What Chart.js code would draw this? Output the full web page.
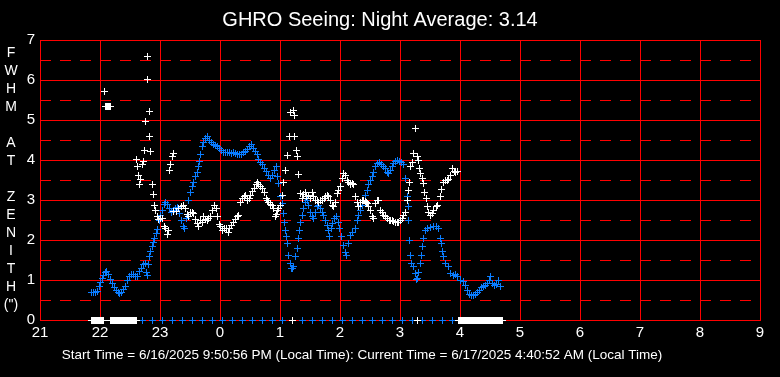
<!DOCTYPE html>
<html>
<head>
<meta charset="utf-8">
<script src="https://cdn.jsdelivr.net/npm/chart.js@4/dist/chart.umd.min.js"></script>
<style>
  html, body { margin: 0; padding: 0; background: #000; }
  canvas { display: block; background: #000; }
</style>
</head>
<body>
<canvas id="seeingChart" width="780" height="377"></canvas>
<script>
// minutes after 21:00 local time, FWHM at zenith (arcsec)
const blueSeeing = [
  [51,0.70],[53,0.70],[55,0.70],[57,0.72],[59,0.85],[60,0.95],[62,1.05],[63,1.12],[65,1.20],[66,1.22],
  [68,1.15],[70,1.02],[72,0.92],[74,0.82],[76,0.75],[78,0.68],[79,0.66],[81,0.70],[83,0.76],[85,0.85],
  [87,0.98],[89,1.08],[91,1.13],[93,1.15],[95,1.08],[97,1.10],[99,1.22],[101,1.30],[103,1.38],[105,1.42],
  [106,1.20],[107,1.12],[108,1.38],[109,1.58],[110,1.72],[112,1.83],[113,1.95],[114,2.05],[116,2.17],[117,2.27],
  [119,2.50],[120,2.62],[122,2.75],[124,2.88],[125,2.93],[127,2.90],[129,2.80],[131,2.70],[133,2.75],[135,2.80],
  [137,2.82],[139,2.67],[141,2.50],[143,2.33],[144,2.30],[146,2.55],[148,3.00],[150,3.20],[152,3.33],[153,3.45],
  [155,3.58],[157,3.70],[158,3.85],[159,3.97],[160,4.15],[162,4.33],[163,4.43],[165,4.55],[167,4.58],[169,4.50],
  [171,4.45],[173,4.40],[175,4.37],[177,4.33],[179,4.28],[181,4.23],[183,4.20],[185,4.20],[187,4.18],[189,4.18],
  [191,4.17],[193,4.20],[195,4.17],[197,4.15],[199,4.13],[201,4.15],[203,4.18],[205,4.22],[207,4.27],[209,4.33],
  [211,4.38],[213,4.30],[215,4.22],[217,4.15],[218,4.02],[220,3.95],[222,3.88],[224,3.80],[226,3.72],[228,3.62],
  [230,3.55],[232,3.62],[234,3.75],[236,3.85],[237,3.60],[238,3.42],[240,3.10],[242,2.92],[243,2.67],[244,2.45],
  [245,2.25],[246,2.08],[247,1.92],[248,1.62],[250,1.42],[251,1.30],[252,1.30],[253,1.35],[255,1.60],[257,1.80],
  [258,2.05],[259,2.25],[260,2.45],[262,2.62],[263,2.80],[265,2.95],[267,3.00],[268,2.87],[270,2.70],[272,2.58],
  [273,2.55],[275,2.70],[277,2.83],[278,2.87],[280,2.80],[282,2.70],[283,2.62],[285,2.50],[287,2.37],[288,2.25],
  [289,2.08],[291,2.30],[292,2.42],[294,2.55],[296,2.58],[298,2.45],[299,2.30],[301,2.08],[303,1.87],[305,1.70],
  [306,1.62],[308,1.92],[310,2.12],[312,2.20],[315,2.30],[317,2.50],[318,2.62],[320,2.75],[322,2.87],[323,3.00],
  [325,3.12],[327,3.25],[328,3.40],[330,3.50],[332,3.58],[333,3.70],[335,3.83],[337,3.92],[339,3.95],[341,3.90],
  [343,3.85],[345,3.80],[347,3.70],[348,3.66],[350,3.75],[352,3.85],[353,3.92],[355,3.97],[357,4.00],[359,3.97],
  [361,3.93],[363,3.88],[365,3.55],[367,3.08],[368,2.83],[368.5,2.50],[369,2.00],[370,1.62],[371,1.42],[373,1.33],
  [375,1.17],[376,1.02],[377,1.05],[378,1.20],[380,1.42],[381,1.62],[382,1.83],[383,2.05],[385,2.25],[387,2.30],
  [390,2.32],[393,2.33],[396,2.33],[398,2.28],[400,2.05],[401,1.92],[402,1.72],[403,1.58],[405,1.42],[408,1.33],
  [410,1.17],[413,1.12],[415,1.15],[417,1.08],[420,1.00],[423,0.97],[425,0.87],[427,0.75],[429,0.63],[431,0.62],
  [433,0.62],[435,0.65],[437,0.70],[439,0.75],[441,0.82],[443,0.85],[445,0.87],[447,0.92],[449,1.00],[450,1.08],
  [452,0.92],[454,0.87],[456,0.90],[458,1.00],[460,0.85]
];

const whiteSeeing = [
  [64,5.72],[65,5.33],[66,5.35],[67,5.33],[68,5.35],[69,5.34],[70,5.33],
  [96,4.02],[97,3.83],[98,3.62],[99,3.40],[100,3.52],[102,3.90],[103,3.97],[104,4.25],[105,4.97],
  [107,6.58],[107,6.02],[109,5.22],[109,4.58],[110,4.22],[112,3.40],[113,3.15],[114,2.87],[115,2.75],
  [117,2.60],[118,2.52],[120,2.55],[122,2.55],[124,2.35],[125,2.28],[127,2.15],[128,2.25],
  [129,3.75],[130,3.88],[132,4.08],[133,4.17],
  [133,2.72],[136,2.72],[138,2.80],[141,2.85],[143,2.87],[145,2.80],[147,2.65],[148,2.60],[150,2.68],[152,2.70],
  [153,2.67],[155,2.52],[157,2.42],[158,2.35],[160,2.50],[162,2.45],[163,2.58],[165,2.52],[167,2.50],[168,2.55],
  [170,2.58],[172,2.75],[174,2.87],[176,2.80],[177,2.60],[179,2.40],[180,2.33],[182,2.25],[184,2.28],[186,2.30],
  [188,2.20],[189,2.30],[191,2.37],[193,2.45],[195,2.52],[197,2.58],[198,2.62],[200,2.93],[202,3.03],[204,3.10],
  [205,3.12],[207,3.00],[209,3.05],[210,3.12],[212,3.22],[214,3.30],[216,3.40],[217,3.45],[218,3.40],[220,3.33],
  [222,3.30],[224,3.20],[226,3.05],[227,3.00],[228,2.95],[230,2.90],[232,2.87],[233,2.80],[235,2.58],[236,2.65],
  [237,2.75],[238,2.80],[240,2.87],[242,3.12],[243,3.45],[245,3.75],[247,4.12],[249,4.60],[250,5.20],[253,5.25],
  [254,5.12],[254,4.58],[256,4.25],[257,4.08],[258,3.65],[260,3.17],[262,3.05],[263,3.15],[265,3.20],[266,3.10],
  [268,3.12],[270,3.05],[272,3.20],[273,3.10],[275,3.00],[277,2.98],[278,2.95],[280,2.98],[282,3.00],[284,3.05],
  [285,3.08],[287,3.12],[288,3.10],[290,3.00],[292,2.87],[293,2.83],[295,2.95],[297,3.17],[298,3.25],[300,3.33],
  [302,3.55],[303,3.67],[305,3.62],[307,3.50],[308,3.45],[310,3.38],[312,3.42],[313,3.38],[315,3.08],[317,2.95],
  [318,2.83],[320,2.95],[322,3.00],[323,3.00],[325,2.97],[326,2.95],[327,2.92],[328,2.83],[330,2.75],[332,2.58],
  [333,2.55],[335,2.92],[337,3.00],[338,3.00],[340,2.75],[342,2.70],[343,2.62],[345,2.58],[347,2.55],[349,2.50],
  [350,2.50],[352,2.48],[353,2.47],[355,2.45],[357,2.45],[358,2.45],[360,2.50],[362,2.55],[363,2.62],[365,2.70],
  [367,3.00],[368,3.25],[369,3.45],[370,3.83],[372,3.95],[373,4.17],[375,4.80],[377,4.08],[378,4.00],[379,3.80],
  [380,3.67],[382,3.55],[383,3.42],[384,3.20],[386,3.05],[387,2.83],[388,2.70],[390,2.62],[392,2.67],[393,2.75],
  [396,2.83],[397,2.87],[400,3.08],[401,3.27],[403,3.45],[405,3.50],[407,3.50],[408,3.52],[410,3.62],[412,3.80],
  [414,3.72],[415,3.70],[417,3.72]
];

// readings logged as zero (no measurement)
const blueZeroMinutes = [52,62,72,82,92,102,112,122,132,142,152,162,172,182,192,202,212,222,232,242,252,
  262,272,282,292,302,312,322,332,342,352,362,372,382,392,402,412,422,432,442,452,462];
const whiteZeroMinutes = [51,52,53,54,55,56,57,58,59,60,61,62,63,
  70,71,72,73,74,75,76,77,78,79,80,81,82,83,84,85,86,87,88,89,90,91,92,93,94,95,96,
  252,377,
  418,419,420,421,422,423,424,425,426,427,428,429,430,431,432,433,434,435,436,437,438,439,440,
  441,442,443,444,445,446,447,448,449,450,451,452,453,454,455,456,457,458,459,460,461,462];

const hourLabels = ["21","22","23","0","1","2","3","4","5","6","7","8","9"];
const halfLines = [0.5,1.5,2.5,3.5,4.5,5.5,6.5];
const yAxisLetters = ["F","W","H","M","","A","T","","Z","E","N","I","T","H","(\")"];
const titleText = "GHRO Seeing: Night Average: 3.14";
const footerText = "Start Time = 6/16/2025 9:50:56 PM (Local Time): Current Time = 6/17/2025 4:40:52 AM (Local Time)";

const FONT = "'Liberation Sans', Arial, sans-serif";
const BLUE = "rgb(10,125,255)";
const RED = "#ff0000";

const toPoints = (pairs) => pairs.map(([x, y]) => ({ x, y }));
const zeroPoints = (mins) => mins.map((x) => ({ x, y: 0 }));

// small pixel "+" marker so the crosses stay crisp
function makeCross(color) {
  const c = document.createElement("canvas");
  c.width = 7;
  c.height = 7;
  const g = c.getContext("2d");
  g.fillStyle = color;
  g.fillRect(0, 3, 7, 1);
  g.fillRect(3, 0, 1, 7);
  return c;
}

// dashed half-unit lines, drawn under the points
const halfGridPlugin = {
  id: "halfGrid",
  beforeDatasetsDraw(chart) {
    const ctx = chart.ctx;
    const { left, right } = chart.chartArea;
    const yScale = chart.scales.y;
    ctx.save();
    ctx.strokeStyle = RED;
    ctx.lineWidth = 1;
    ctx.setLineDash([11, 9]);
    halfLines.forEach((v) => {
      const py = Math.round(yScale.getPixelForValue(v)) + 0.5;
      ctx.beginPath();
      ctx.moveTo(left, py);
      ctx.lineTo(right, py);
      ctx.stroke();
    });
    ctx.restore();
    ctx.imageSmoothingEnabled = false;
  },
};

// vertical y-axis caption + footer line
const textPlugin = {
  id: "extraText",
  afterDraw(chart) {
    const ctx = chart.ctx;
    ctx.save();
    ctx.fillStyle = "#fff";
    ctx.textAlign = "center";
    ctx.textBaseline = "middle";
    ctx.font = "14px " + FONT;
    yAxisLetters.forEach((ch, i) => {
      if (ch) ctx.fillText(ch, 11, 53 + i * 18);
    });
    ctx.font = "13.5px " + FONT;
    ctx.fillText(footerText, 362, 355);
    ctx.restore();
  },
};

const ctx = document.getElementById("seeingChart").getContext("2d");
new Chart(ctx, {
  type: "scatter",
  data: {
    // first dataset is painted last, so white sits on top
    datasets: [
      {
        label: "white",
        data: toPoints(whiteSeeing).concat(zeroPoints(whiteZeroMinutes)),
        pointStyle: makeCross("#fff"),
        pointRadius: 3,
        borderColor: "#fff",
        backgroundColor: "#fff",
        clip: 6,
      },
      {
        label: "blue",
        data: toPoints(blueSeeing).concat(zeroPoints(blueZeroMinutes)),
        pointStyle: makeCross(BLUE),
        pointRadius: 3,
        borderColor: BLUE,
        backgroundColor: BLUE,
        clip: 6,
      },
    ],
  },
  options: {
    responsive: false,
    animation: false,
    layout: { padding: { left: 0, right: 20, top: 0, bottom: 0 } },
    plugins: {
      legend: { display: false },
      tooltip: { enabled: false },
      title: {
        display: true,
        text: titleText,
        color: "#fff",
        font: { family: FONT, size: 20, weight: "normal" },
        padding: { top: 8, bottom: 8 },
      },
    },
    scales: {
      x: {
        type: "linear",
        min: 0,
        max: 720,
        afterFit(scale) { scale.height = 57; },
        ticks: {
          stepSize: 60,
          color: "#fff",
          padding: 4,
          maxRotation: 0,
          font: { family: FONT, size: 15 },
          callback: (v) => hourLabels[Math.round(v / 60)],
        },
        grid: { color: RED, lineWidth: 1, drawTicks: false },
        border: { color: RED },
      },
      y: {
        min: 0,
        max: 7,
        position: "left",
        afterFit(scale) { scale.width = 40; },
        ticks: {
          stepSize: 1,
          color: "#fff",
          padding: 5,
          font: { family: FONT, size: 15 },
        },
        grid: { color: RED, lineWidth: 1, drawTicks: false },
        border: { color: RED },
      },
    },
  },
  plugins: [halfGridPlugin, textPlugin],
});
</script>
</body>
</html>
